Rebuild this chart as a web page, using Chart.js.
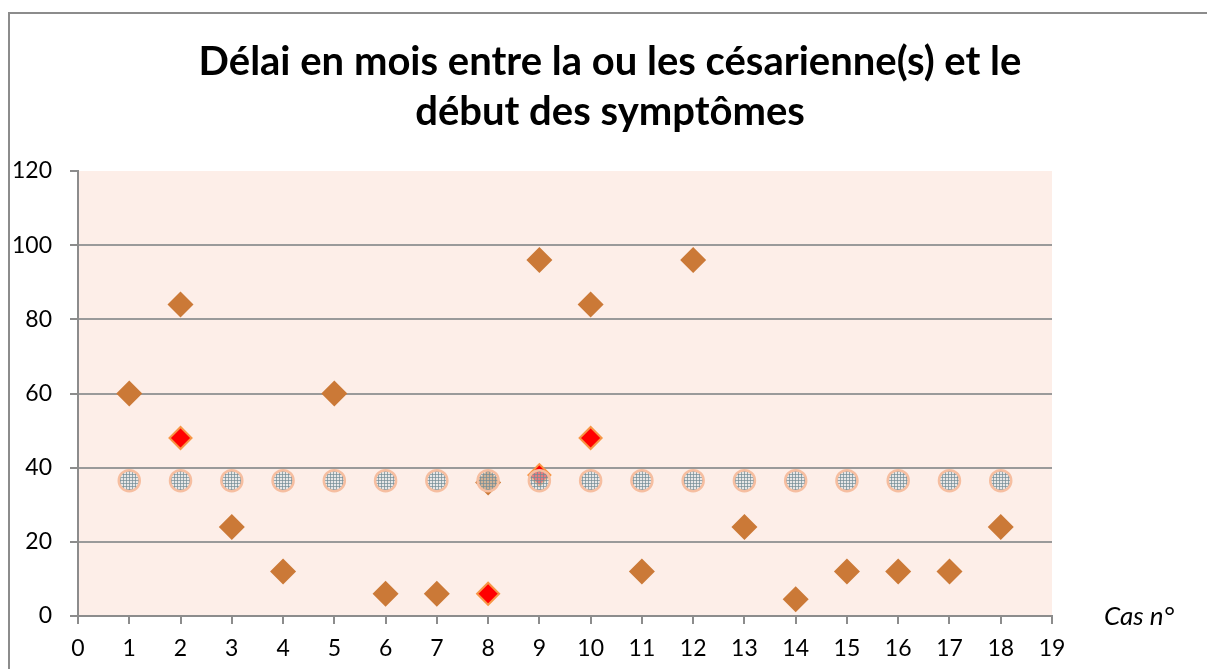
<!DOCTYPE html>
<html lang="fr">
<head>
<meta charset="UTF-8" />
<title>Délai en mois entre la ou les césarienne(s) et le début des symptômes</title>
<script src="https://cdn.jsdelivr.net/npm/chart.js"></script>
<style>
  html, body { margin: 0; padding: 0; background: #ffffff; }
  #wrap { width: 1207px; height: 669px; }
</style>
</head>
<body>
<div id="wrap"><canvas id="chart" width="1207" height="669"></canvas></div>
<script>
  // données
  const cas = [1, 2, 3, 4, 5, 6, 7, 8, 9, 10, 11, 12, 13, 14, 15, 16, 17, 18];
  const delaiMois = [60, 84, 24, 12, 60, 6, 6, 36, 96, 84, 12, 96, 24, 4.5, 12, 12, 12, 24];
  const moyenne = [36.5, 36.5, 36.5, 36.5, 36.5, 36.5, 36.5, 36.5, 36.5, 36.5, 36.5, 36.5, 36.5, 36.5, 36.5, 36.5, 36.5, 36.5];
  const casRouges = [2, 8, 9, 10];
  const delaiRouges = [48, 6, 38, 48];
  const titre = ['Délai en mois entre la ou les césarienne(s) et le', 'début des symptômes'];
  const titreAxeX = 'Cas n°';

  const police = 'Lato, "Open Sans", sans-serif';

  // motif quadrillé pour les ronds
  function motifQuadrille() {
    const c = document.createElement('canvas');
    c.width = 3; c.height = 3;
    const g = c.getContext('2d');
    g.fillStyle = 'rgba(215,225,230,0.55)';
    g.fillRect(0, 0, 3, 3);
    g.fillStyle = 'rgba(115,140,150,0.7)';
    g.fillRect(0, 0, 3, 1);
    g.fillRect(0, 0, 1, 3);
    return document.getElementById('chart').getContext('2d').createPattern(c, 'repeat');
  }

  const points = (xs, ys) => xs.map((x, i) => ({ x: x, y: ys[i] }));

  // fond de la zone de tracé, cadre, titre et libellé "Cas n°"
  const decor = {
    id: 'decor',
    beforeDraw(chart) {
      const { ctx, chartArea: a } = chart;
      ctx.save();
      ctx.fillStyle = '#fdeee8';
      ctx.fillRect(a.left, a.top, a.right - a.left, a.bottom - a.top);
      ctx.strokeStyle = '#8c8c8c';
      ctx.lineWidth = 2;
      ctx.beginPath();
      ctx.moveTo(9, 669);
      ctx.lineTo(9, 13);
      ctx.lineTo(1207, 13);
      ctx.stroke();
      ctx.restore();
    },
    afterDraw(chart) {
      const { ctx, chartArea: a } = chart;
      ctx.save();
      ctx.fillStyle = '#000';
      ctx.textBaseline = 'middle';
      ctx.textAlign = 'center';
      ctx.font = 'bold 40px ' + police;
      titre.forEach((ligne, i) => ctx.fillText(ligne, 610, 62 + i * 50));
      ctx.font = 'italic 26px ' + police;
      ctx.textAlign = 'left';
      ctx.fillText(titreAxeX, a.right + 52, a.bottom + 1);
      ctx.restore();
    }
  };

  new Chart(document.getElementById('chart'), {
    type: 'scatter',
    data: {
      datasets: [
        {
          data: points(cas, moyenne),
          pointStyle: 'circle',
          pointRadius: 10.5,
          pointHoverRadius: 10.5,
          backgroundColor: motifQuadrille(),
          borderColor: '#f6bea0',
          borderWidth: 2.5,
          order: 0
        },
        {
          data: points(casRouges, delaiRouges),
          pointStyle: 'rectRot',
          pointRadius: 11,
          pointHoverRadius: 11,
          backgroundColor: '#ff0000',
          borderColor: '#f79646',
          borderWidth: 2,
          order: 1
        },
        {
          data: points(cas, delaiMois),
          pointStyle: 'rectRot',
          pointRadius: 13,
          pointHoverRadius: 13,
          backgroundColor: '#cb7937',
          borderColor: '#cb7937',
          borderWidth: 0,
          order: 2
        }
      ]
    },
    options: {
      responsive: false,
      animation: false,
      layout: { padding: { left: 0, right: 155, top: 171, bottom: 0 } },
      plugins: {
        legend: { display: false },
        tooltip: { enabled: false },
        title: { display: false }
      },
      scales: {
        x: {
          type: 'linear',
          min: 0,
          max: 19,
          ticks: { stepSize: 1, color: '#000', font: { family: police, size: 23 }, padding: 11 },
          grid: { display: true, drawOnChartArea: false, drawTicks: true, tickLength: 8, color: '#8c8c8c', lineWidth: 2 },
          border: { display: true, color: '#8c8c8c', width: 2 },
          afterFit(scale) { scale.height = 53; }
        },
        y: {
          min: 0,
          max: 120,
          ticks: { stepSize: 20, color: '#000', font: { family: police, size: 23 }, padding: 18 },
          grid: {
            color: ctx => (ctx.tick && ctx.tick.value === 120) ? 'rgba(0,0,0,0)' : '#9a9a9a',
            lineWidth: 2,
            tickLength: 8,
            tickColor: '#8c8c8c'
          },
          border: { display: true, color: '#8c8c8c', width: 2 },
          afterFit(scale) { scale.width = 78; }
        }
      }
    },
    plugins: [decor]
  });
</script>
</body>
</html>
